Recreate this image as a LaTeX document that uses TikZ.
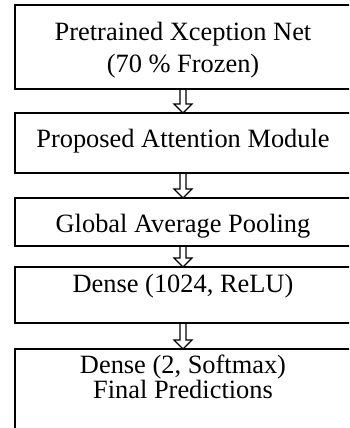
\documentclass[tikz,border=0pt]{standalone}
\usepackage{fontspec}
\setmainfont{Liberation Serif}
\begin{document}
\begin{tikzpicture}[x=1pt,y=-1pt,
  box/.style={draw=black,line width=1.8pt,rectangle,minimum width=336pt,anchor=north west,outer sep=0pt,inner sep=0pt},
  lbl/.style={anchor=base,inner sep=0pt,font=\fontsize{26.4}{31}\selectfont},
  arr/.style={draw=black,line width=1.2pt,line join=miter}]
\clip (0,0) rectangle (349,428);
\node[box,minimum height=84pt] (b1) at (15,5) {};
\node[box,minimum height=60pt] (b2) at (15,113) {};
\node[box,minimum height=48pt] (b3) at (15,198) {};
\node[box,minimum height=56pt] (b4) at (15,267) {};
\node[box,minimum height=100pt] (b5) at (15,349) {};
\node[lbl] (t1a) at (183,41) {Pretrained Xception Net};
\node[lbl] (t1b) at (183,72) {(70 \% Frozen)};
\node[lbl] (t2) at (183,147) {Proposed Attention Module};
\node[lbl] (t3) at (183,232) {Global Average Pooling};
\node[lbl] (t4) at (183,292) {Dense (1024, ReLU)};
\node[lbl] (t5a) at (183,373) {Dense (2, Softmax)};
\node[lbl] (t5b) at (183,398) {Final Predictions};
\foreach \a/\b in {b1/b2,b2/b3,b3/b4,b4/b5}{
  \draw[arr] ([xshift=-3pt]\a.south) -- ([xshift=-3pt,yshift=9pt]\b.north) -- ([xshift=-9pt,yshift=9pt]\b.north) -- (\b.north) -- ([xshift=9pt,yshift=9pt]\b.north) -- ([xshift=3pt,yshift=9pt]\b.north) -- ([xshift=3pt]\a.south);
}
\end{tikzpicture}
\end{document}
